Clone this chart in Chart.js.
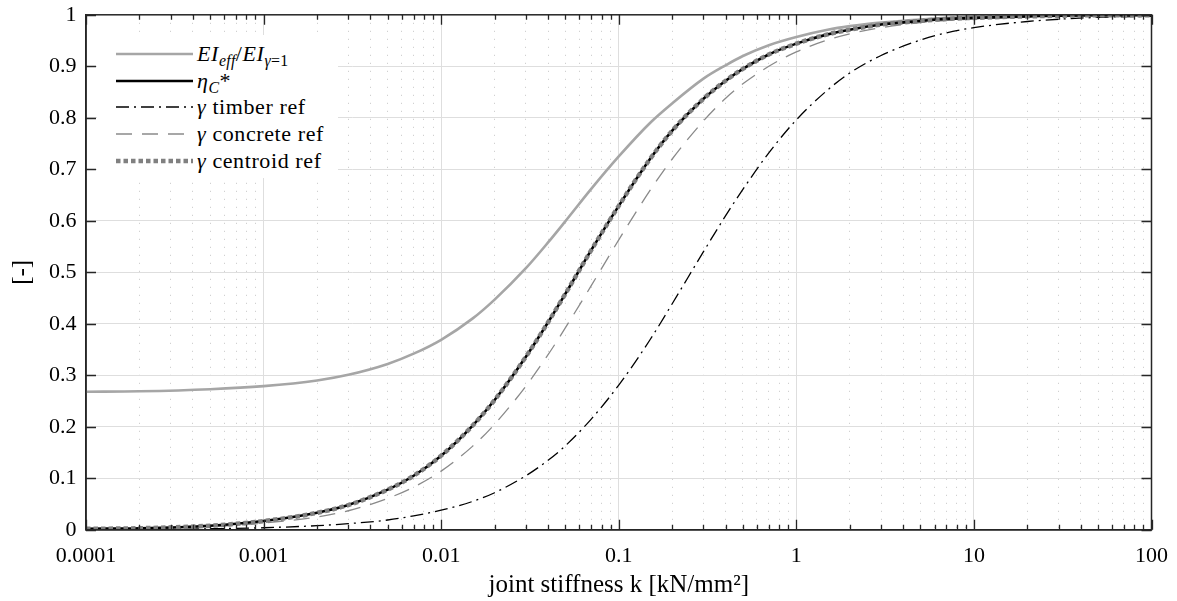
<!DOCTYPE html>
<html><head><meta charset="utf-8">
<script src="https://cdn.jsdelivr.net/npm/chart.js@4.4.1/dist/chart.umd.min.js"></script>
<style>
html,body{margin:0;padding:0;background:#fff;}
#wrap{position:relative;width:1177px;height:601px;}
#legend{position:absolute;left:97px;top:35px;width:241px;height:143px;background:#fff;font-family:'Liberation Serif',serif;font-size:22px;letter-spacing:0.6px;color:#000;box-sizing:border-box;padding-top:6px;}
.row{display:flex;align-items:center;height:26.6px;white-space:nowrap;}
.row svg{margin-left:19px;margin-right:4px;flex:none;}
sub{font-size:0.72em;vertical-align:-0.3em;line-height:0;letter-spacing:0.3px;}
</style></head>
<body><div id="wrap"><canvas id="c" width="1177" height="601"></canvas><div id="legend"></div></div>
<script>
// joint stiffness k [kN/mm^2]
const kValues   = [0.0001,0.0002,0.0005,0.001,0.002,0.003,0.005,0.007,0.01,0.015,0.02,0.03,0.04,0.05,0.07,0.1,0.15,0.2,0.3,0.4,0.5,0.7,1,1.5,2,3,5,7,10,20,50,100];
const eiRatio   = [0.268,0.269,0.273,0.279,0.290,0.301,0.322,0.342,0.369,0.410,0.447,0.508,0.558,0.599,0.662,0.725,0.790,0.828,0.876,0.902,0.920,0.941,0.957,0.971,0.978,0.985,0.991,0.994,0.996,0.998,0.999,1.000];
const etaC      = [0.002,0.003,0.008,0.017,0.033,0.048,0.078,0.105,0.144,0.202,0.252,0.336,0.403,0.458,0.543,0.629,0.720,0.775,0.837,0.872,0.895,0.923,0.944,0.962,0.971,0.981,0.988,0.992,0.994,0.997,0.999,0.999];
const gTimber   = [0.0004,0.0008,0.002,0.004,0.008,0.012,0.019,0.027,0.038,0.055,0.072,0.105,0.135,0.163,0.215,0.281,0.369,0.439,0.540,0.610,0.661,0.732,0.796,0.854,0.887,0.921,0.951,0.965,0.975,0.987,0.995,0.997];
const gConcrete = [0.001,0.003,0.006,0.013,0.025,0.037,0.061,0.083,0.114,0.162,0.205,0.279,0.340,0.392,0.474,0.563,0.659,0.720,0.794,0.838,0.866,0.900,0.928,0.951,0.963,0.975,0.985,0.989,0.992,0.996,0.998,0.999];
const gCentroid = [0.002,0.003,0.008,0.017,0.033,0.048,0.078,0.105,0.144,0.202,0.252,0.336,0.403,0.458,0.543,0.629,0.720,0.775,0.837,0.872,0.895,0.923,0.944,0.962,0.971,0.981,0.988,0.992,0.994,0.997,0.999,0.999];

const xDecades    = [0.0001,0.001,0.01,0.1,1,10,100];
const xTickLabels = ['0.0001','0.001','0.01','0.1','1','10','100'];
const xMinorMult  = [1,2,3,4,5,6,7,8,9];
const yTickLabels = ['0','0.1','0.2','0.3','0.4','0.5','0.6','0.7','0.8','0.9','1'];

const seriesLabels = ['EI_eff/EI_γ=1','η_C*','γ timber ref','γ concrete ref','γ centroid ref'];
const legendHtml = [
  '<i>EI</i><sub><i>eff</i></sub>/<i>EI</i><sub><i>γ</i>=1</sub>',
  '<i>η</i><sub><i>C</i></sub>*',
  '<i>γ</i> timber ref',
  '<i>γ</i> concrete ref',
  '<i>γ</i> centroid ref'
];

const pts = arr => kValues.map((k,i)=>({x:k,y:arr[i]}));
const base = {pointRadius:0,fill:false,cubicInterpolationMode:'monotone',borderCapStyle:'butt',borderJoinStyle:'round'};

const datasets = [
  Object.assign({label:seriesLabels[0],data:pts(eiRatio),borderColor:'#a6a6a6',borderWidth:2.6,order:2},base),
  Object.assign({label:seriesLabels[1],data:pts(etaC),borderColor:'#000000',borderWidth:2.6,order:1},base),
  Object.assign({label:seriesLabels[2],data:pts(gTimber),borderColor:'#000000',borderWidth:1.3,borderDash:[13,5,2,5],order:4},base),
  Object.assign({label:seriesLabels[3],data:pts(gConcrete),borderColor:'#8a8a8a',borderWidth:1.3,borderDash:[16,10],order:3},base),
  Object.assign({label:seriesLabels[4],data:pts(gCentroid),borderColor:'#808080',borderWidth:4.5,borderDash:[4.5,3],order:0},base)
];

const isDecade = v => Math.abs(Math.log10(v) - Math.round(Math.log10(v))) < 1e-6;
const FONT = "'Liberation Serif', serif";

const framePlugin = {
  id:'frameTicks',
  afterDatasetsDraw(chart){
    const {ctx, chartArea:a, scales:{x,y}} = chart;
    ctx.save();
    ctx.strokeStyle = '#262626';
    ctx.lineWidth = 1.3;
    ctx.setLineDash([]);
    ctx.beginPath();
    x.ticks.forEach(t=>{
      const px = Math.round(x.getPixelForValue(t.value))+0.5;
      const len = isDecade(t.value) ? 10 : 5;
      ctx.moveTo(px,a.bottom); ctx.lineTo(px,a.bottom-len);
      ctx.moveTo(px,a.top); ctx.lineTo(px,a.top+len);
    });
    y.ticks.forEach(t=>{
      const py = Math.round(y.getPixelForValue(t.value))+0.5;
      ctx.moveTo(a.left,py); ctx.lineTo(a.left+10,py);
      ctx.moveTo(a.right,py); ctx.lineTo(a.right-10,py);
    });
    ctx.stroke();
    ctx.lineWidth = 1.5;
    ctx.strokeRect(a.left,a.top,a.right-a.left,a.bottom-a.top);
    ctx.restore();
  }
};

function build(){
  Chart.defaults.font.family = FONT;
  const chart = new Chart(document.getElementById('c'),{
    type:'line',
    data:{datasets},
    options:{
      responsive:false,animation:false,devicePixelRatio:1,
      layout:{padding:{top:14.8,right:25.5,bottom:0,left:0}},
      plugins:{legend:{display:false},tooltip:{enabled:false}},
      scales:{
        x:{
          type:'logarithmic',min:0.0001,max:100,position:'bottom',
          afterBuildTicks(scale){
            const t=[];
            xDecades.forEach((d,i)=>{
              if(i===xDecades.length-1){t.push({value:d});return;}
              xMinorMult.forEach(m=>t.push({value:d*m}));
            });
            scale.ticks=t;
          },
          afterFit(s){s.height=71.2;s.paddingLeft=0;s.paddingRight=0;},
          ticks:{autoSkip:false,maxRotation:0,minRotation:0,padding:13,color:'#000',font:{family:FONT,size:22},
            callback(v){const i=xDecades.findIndex(d=>Math.abs(d-v)/d<1e-6);return i>=0?xTickLabels[i]:'';}},
          grid:{drawTicks:false,lineWidth:1,color:c=>(c.tick&&!isDecade(c.tick.value))?'#c6c6c6':'#dedede'},
          border:{display:true,color:'#262626',width:1.5,dash:c=>(c.tick&&!isDecade(c.tick.value))?[1,7]:[]},
          title:{display:true,text:'joint stiffness k [kN/mm²]',color:'#000',font:{family:FONT,size:25},padding:{top:0,bottom:1}}
        },
        y:{
          type:'linear',min:0,max:1,
          afterFit(s){s.width=86;s.paddingTop=0;s.paddingBottom=0;},
          ticks:{stepSize:0.1,padding:9.5,color:'#000',font:{family:FONT,size:22},callback:(v,i)=>yTickLabels[i]},
          grid:{drawTicks:false,lineWidth:1,color:'#dedede'},
          border:{display:true,color:'#262626',width:1.5},
          title:{display:true,text:'[-]',color:'#000',font:{family:FONT,size:25},padding:{top:7,bottom:0}}
        }
      }
    },
    plugins:[framePlugin]
  });

  // HTML legend built from the chart's datasets
  const leg = document.getElementById('legend');
  chart.data.datasets.forEach((ds,i)=>{
    const row = document.createElement('div'); row.className='row';
    const dash = ds.borderDash ? ds.borderDash.join(',') : 'none';
    row.innerHTML = '<svg width="77" height="10"><line x1="0" y1="5" x2="77" y2="5" stroke="'+ds.borderColor+'" stroke-width="'+ds.borderWidth+'" stroke-dasharray="'+dash+'"/></svg><span>'+legendHtml[i]+'</span>';
    leg.appendChild(row);
  });
}

if (document.fonts && document.fonts.load) {
  Promise.all([
    document.fonts.load('22px "Liberation Serif"'),
    document.fonts.load('italic 22px "Liberation Serif"')
  ]).then(build, build);
} else { build(); }
</script>
</body></html>
